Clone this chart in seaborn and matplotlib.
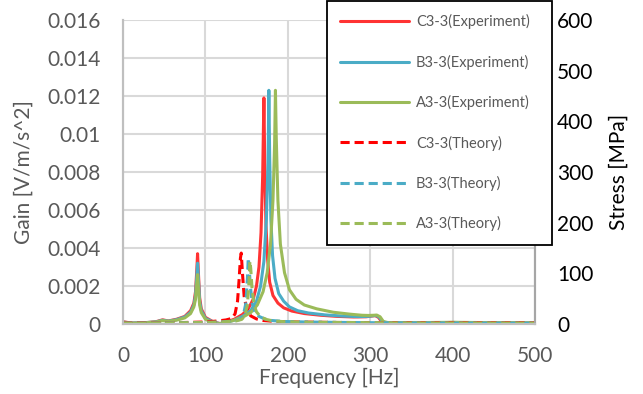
# Frequency response (gain) and theoretical stress of three specimens
import matplotlib
matplotlib.use('Agg')
import matplotlib.pyplot as plt
import seaborn as sns

# Experiment data: frequency [Hz] and gain [V/m/s^2]
freq_c = [0, 10, 20, 30, 40, 48, 55, 65, 75, 82, 86, 88, 89.5, 90.5, 91.5, 93, 95, 100, 110, 118,
          125, 135, 145, 152, 158, 162, 165, 167.5, 169.5, 171, 172, 173.5, 175.5, 178, 182, 188, 195, 205, 220, 240,
          260, 280, 295, 302, 306, 310, 314, 320, 350, 400, 450, 500]
gain_c = [0.00012, 0.00005, 0.00006, 0.00008, 0.00012, 0.00022, 0.00016, 0.00025, 0.0004, 0.0007,
          0.0011, 0.0017, 0.0028, 0.0037, 0.0027, 0.0014, 0.0008, 0.00035, 0.0001, 0.00002,
          0.0001, 0.00025, 0.0005, 0.0008, 0.0013, 0.002, 0.003, 0.0048, 0.0078, 0.0119,
          0.0085, 0.0052, 0.0034, 0.0022, 0.0015, 0.0011, 0.00085, 0.00068, 0.00055, 0.00046,
          0.0004, 0.00037, 0.00038, 0.00042, 0.00044, 0.00035, 0.00012, 0.00006, 0.00006, 0.00008,
          0.00006, 0.00005]

freq_b = [0, 10, 20, 30, 40, 48, 55, 65, 75, 82, 86, 88, 89.5, 90.5, 91.5, 93, 95, 100, 110, 118,
          125, 135, 145, 155, 162, 167, 171, 174, 176, 177, 178, 179.5, 181.5, 184.5, 189, 195, 202, 212, 225, 245,
          265, 285, 297, 303, 307, 311, 315, 320, 350, 400, 450, 500]
gain_b = [0.0001, 0.00005, 0.00006, 0.00008, 0.00011, 0.0002, 0.00015, 0.00023, 0.00037, 0.00062,
          0.001, 0.0015, 0.0025, 0.0032, 0.0024, 0.0012, 0.0007, 0.0003, 0.00009, 0.00002,
          0.00008, 0.0002, 0.0004, 0.0007, 0.0012, 0.002, 0.0033, 0.0055, 0.0085, 0.0123,
          0.0088, 0.0055, 0.0036, 0.0024, 0.0016, 0.0012, 0.0009, 0.0007, 0.00058, 0.00048,
          0.00042, 0.00039, 0.0004, 0.00043, 0.00045, 0.00036, 0.00012, 0.00006, 0.00006, 0.00008,
          0.00006, 0.00005]

freq_a = [0, 10, 20, 30, 40, 48, 55, 65, 75, 82, 86, 88, 89.5, 90.5, 91.5, 93, 95, 100, 108, 115,
          125, 135, 145, 155, 163, 170, 175, 179, 182, 184, 185, 186, 188, 191, 196, 202, 210, 220, 235, 255,
          275, 290, 298, 304, 308, 312, 316, 322, 350, 400, 450, 500]
gain_a = [0.00008, 0.00004, 0.00005, 0.00007, 0.0001, 0.00018, 0.00014, 0.0002, 0.00032, 0.00055,
          0.0009, 0.0013, 0.0021, 0.0026, 0.0019, 0.001, 0.0006, 0.00025, 0.00008, 0.00001,
          0.00008, 0.0002, 0.00035, 0.0006, 0.001, 0.0017, 0.0027, 0.0042, 0.0065, 0.0095,
          0.0123, 0.0098, 0.0065, 0.0042, 0.0027, 0.0018, 0.0013, 0.001, 0.0008, 0.00062,
          0.00052, 0.00046, 0.00045, 0.00046, 0.00047, 0.00038, 0.00013, 0.00007, 0.00007, 0.00009,
          0.00007, 0.00006]

# Theory data: frequency [Hz] and stress [MPa] (secondary axis)
freq_tc = [0, 25, 50, 75, 100, 115, 125, 132, 136, 139, 141, 142.5, 143.5, 145, 147, 150, 155, 162, 170, 185,
           210, 260, 350, 500]
stress_tc = [2, 2, 2.5, 3, 4, 6, 8, 11, 20, 45, 90, 130, 140, 100, 55, 30, 16, 10, 7, 5,
             4, 3, 2.5, 2]
freq_tb = [0, 25, 50, 75, 100, 120, 135, 142, 146, 149, 151, 152, 153, 154.5, 157, 160, 165, 172, 180, 195,
           220, 270, 350, 500]
stress_tb = [1.5, 1.5, 2, 2.5, 3, 4, 6, 9, 17, 40, 90, 130, 115, 75, 40, 25, 15, 10, 7, 5,
             4, 3, 2, 1.5]
freq_ta = [0, 25, 50, 75, 100, 120, 137, 144, 148, 151, 153, 154, 155, 156.5, 159, 162, 167, 174, 182, 197,
           222, 272, 350, 500]
stress_ta = [1.5, 1.5, 2, 2.5, 3, 4, 6, 9, 16, 38, 85, 124, 110, 72, 38, 24, 14, 9, 6, 4.5,
             3.5, 3, 2, 1.5]

# Tick labels
x_ticks = [0, 100, 200, 300, 400, 500]
gain_ticks = [0, 0.002, 0.004, 0.006, 0.008, 0.01, 0.012, 0.014, 0.016]
gain_labels = ['0', '0.002', '0.004', '0.006', '0.008', '0.01', '0.012', '0.014', '0.016']
stress_ticks = [0, 100, 200, 300, 400, 500, 600]

sns.set_style('white')
plt.rcParams['font.family'] = ['Lato', 'DejaVu Sans']

grey_text = '#595959'
grid_col = '#d9d9d9'
red, blue, green = '#ff3333', '#4bacc6', '#9bbb59'

fig = plt.figure(figsize=(6.43, 3.94), dpi=100)
ax = fig.add_axes([123 / 643, 1 - 324 / 394, 412 / 643, 304 / 394])
ax2 = ax.twinx()

# experiment curves on the gain axis
exp_series = [(freq_c, gain_c, red, 'C3-3(Experiment)'),
              (freq_b, gain_b, blue, 'B3-3(Experiment)'),
              (freq_a, gain_a, green, 'A3-3(Experiment)')]
for f, g, col, lbl in exp_series:
    sns.lineplot(x=f, y=g, ax=ax, color=col, linewidth=2.2, label=lbl, legend=False)

# theory curves on the stress axis
th_series = [(freq_tc, stress_tc, '#ff0000', 'C3-3(Theory)'),
             (freq_tb, stress_tb, blue, 'B3-3(Theory)'),
             (freq_ta, stress_ta, green, 'A3-3(Theory)')]
for f, s, col, lbl in th_series:
    sns.lineplot(x=f, y=s, ax=ax2, color=col, linewidth=2.2, linestyle=(0, (3, 1.6)),
                 label=lbl, legend=False)

# axes limits and ticks
ax.set_xlim(0, 500)
ax.set_ylim(0, 0.016)
ax2.set_ylim(0, 600)
ax.set_xticks(x_ticks)
ax.set_xticklabels([str(t) for t in x_ticks])
ax.set_yticks(gain_ticks)
ax.set_yticklabels(gain_labels)
ax2.set_yticks(stress_ticks)
ax2.set_yticklabels([str(t) for t in stress_ticks])

ax.grid(True, color=grid_col, linewidth=1.5)
ax.set_axisbelow(True)
ax2.grid(False)

ax.tick_params(axis='x', length=0, pad=16, labelsize=15, labelcolor=grey_text)
ax.tick_params(axis='y', length=0, pad=16, labelsize=15, labelcolor=grey_text)
ax2.tick_params(axis='y', length=0, pad=16, labelsize=15, labelcolor='black')

for a in (ax, ax2):
    a.spines['top'].set_visible(False)
    a.spines['left'].set_color('#bfbfbf')
    a.spines['bottom'].set_color('#bfbfbf')
    a.spines['right'].set_color('#a6a6a6')
    a.spines['left'].set_linewidth(1.5)
    a.spines['bottom'].set_linewidth(1.5)
    a.spines['right'].set_linewidth(1.5)

ax.set_xlabel('Frequency [Hz]', fontsize=15, color=grey_text, labelpad=1)
ax.set_ylabel('Gain [V/m/s^2]', fontsize=15, color=grey_text, labelpad=10)
ax2.set_ylabel('Stress [MPa]', fontsize=15, color='black', labelpad=11)

# legend in a framed box over the top-right corner
h1, l1 = ax.get_legend_handles_labels()
h2, l2 = ax2.get_legend_handles_labels()
leg = fig.legend(h1 + h2, l1 + l2, loc='upper left',
                 bbox_to_anchor=(327 / 643, 1 - 5 / 394, 225 / 643, 0.01), mode='expand',
                 fontsize=10.5, labelcolor=grey_text, frameon=True, fancybox=False,
                 edgecolor='black', framealpha=1, handlelength=4.7, handletextpad=0.5,
                 labelspacing=1.74, borderpad=0.9, borderaxespad=0)
leg.get_frame().set_linewidth(1.3)

plt.savefig('out.png', dpi=100)
plt.close()
